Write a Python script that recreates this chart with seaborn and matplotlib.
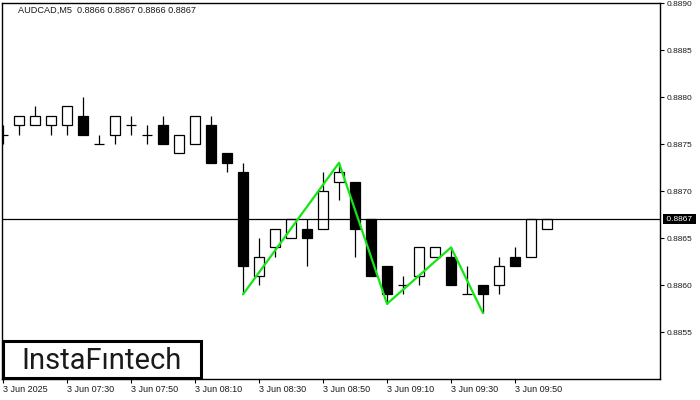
"""
AUDCAD M5 candlestick chart with a triple-bottom style zigzag pattern
"""

import matplotlib
matplotlib.use("Agg")
import matplotlib.pyplot as plt
import matplotlib.transforms as mtransforms
from matplotlib.patches import Rectangle
import numpy as np
import pandas as pd
import seaborn as sns

# Candle data (5 minute bars, 3 Jun 2025 07:10 -> 10:00)
opens = [0.8876, 0.8877, 0.8877, 0.8877, 0.8877, 0.8878, 0.8875, 0.8876, 0.8877, 0.8876,
         0.8877, 0.8874, 0.8875, 0.8877, 0.8874, 0.8872, 0.8861, 0.8864, 0.8865, 0.8866,
         0.8866, 0.8871, 0.8871, 0.8867, 0.8862, 0.8860, 0.8861, 0.8863, 0.8863, 0.8859,
         0.8860, 0.8860, 0.8863, 0.8863, 0.8866]
highs = [0.8877, 0.8878, 0.8879, 0.8878, 0.8879, 0.8880, 0.8876, 0.8878, 0.8878, 0.8877,
         0.8878, 0.8876, 0.8878, 0.8878, 0.8874, 0.8873, 0.8865, 0.8866, 0.8867, 0.8867,
         0.8872, 0.8873, 0.8871, 0.8867, 0.8862, 0.8861, 0.8864, 0.8864, 0.8864, 0.8862,
         0.8860, 0.8863, 0.8864, 0.8867, 0.8867]
lows = [0.8875, 0.8876, 0.8877, 0.8876, 0.8876, 0.8876, 0.8875, 0.8875, 0.8876, 0.8875,
        0.8875, 0.8874, 0.8875, 0.8873, 0.8872, 0.8859, 0.8860, 0.8863, 0.8865, 0.8862,
        0.8866, 0.8869, 0.8863, 0.8861, 0.8858, 0.8859, 0.8860, 0.8863, 0.8860, 0.8859,
        0.8857, 0.8859, 0.8862, 0.8863, 0.8866]
closes = [0.8876, 0.8878, 0.8878, 0.8878, 0.8879, 0.8876, 0.8875, 0.8878, 0.8877, 0.8876,
          0.8875, 0.8876, 0.8878, 0.8873, 0.8873, 0.8862, 0.8863, 0.8866, 0.8867, 0.8865,
          0.8870, 0.8872, 0.8866, 0.8861, 0.8859, 0.8860, 0.8864, 0.8864, 0.8860, 0.8859,
          0.8859, 0.8862, 0.8862, 0.8867, 0.8867]

# Zigzag pattern (candle index, price)
pattern_idx = [15, 21, 24, 28, 30]
pattern_price = [0.8859, 0.8873, 0.8858, 0.8864, 0.8857]

current_price = 0.8867
price_ticks = [0.8855, 0.8860, 0.8865, 0.8870, 0.8875, 0.8880, 0.8885, 0.8890]
time_tick_idx = [0, 4, 8, 12, 16, 20, 24, 28, 32]
time_labels = ["3 Jun 2025", "3 Jun 07:30", "3 Jun 07:50", "3 Jun 08:10", "3 Jun 08:30",
               "3 Jun 08:50", "3 Jun 09:10", "3 Jun 09:30", "3 Jun 09:50"]
title = "AUDCAD,M5  0.8866 0.8867 0.8866 0.8867"
logo = "InstaF\u0131ntech"

sns.set_style("white")
plt.rcParams['font.family'] = ['Liberation Sans', 'DejaVu Sans']

df = pd.DataFrame({"open": opens, "high": highs, "low": lows, "close": closes})
df["idx"] = np.arange(len(df))
df["bottom"] = df[["open", "close"]].min(axis=1)
df["height"] = (df["close"] - df["open"]).abs()
df["face"] = np.where(df["close"] >= df["open"], "white", "black")

fig = plt.figure(figsize=(7, 4), dpi=100)
ax = fig.add_axes([2 / 700, 21 / 400, 658 / 700, 376 / 400])

# wicks
ax.vlines(df["idx"], df["low"], df["high"], color="black", linewidth=0.9, zorder=2)
# bodies
ax.bar(df["idx"], df["height"], bottom=df["bottom"], width=0.6,
       color=df["face"], edgecolor="black", linewidth=0.9, zorder=3)

# current price line
ax.axhline(current_price, color="black", linewidth=0.9, zorder=4)

# pattern zigzag
sns.lineplot(x=pattern_idx, y=pattern_price, ax=ax, color="#14e614",
             linewidth=1.6, sort=False, zorder=5)

ax.set_xlim(-0.0625, 41.06)
ax.set_ylim(0.8850, 0.8890)

ax.yaxis.tick_right()
ax.set_yticks(price_ticks)
ax.set_yticklabels([f"{p:.4f}" for p in price_ticks])
ax.set_xticks(time_tick_idx)
ax.set_xticklabels(time_labels)
plt.setp(ax.get_xticklabels(), ha="left")
ax.tick_params(axis="both", direction="out", length=3, width=0.8, color="black",
               labelcolor="#1a1a1a", pad=1.5)
ax.tick_params(axis="x", bottom=True, labelsize=6.5)
ax.tick_params(axis="y", right=True, left=False, labelsize=6)
ax.set_xlabel("")
ax.set_ylabel("")
ax.grid(False)
for s in ax.spines.values():
    s.set_color("black")
    s.set_linewidth(1.0)

# current price tag on the axis
trans = mtransforms.blended_transform_factory(ax.transAxes, ax.transData)
ax.text(1.006, current_price, " 0.8867 ", transform=trans, ha="left", va="center",
        fontsize=6, color="white", zorder=6, clip_on=False,
        bbox=dict(boxstyle="square,pad=0.15", facecolor="black", edgecolor="none"))

fig.text(18 / 700, 1 - 10 / 400, title, fontsize=6.6, va="center", ha="left", color="#1a1a1a")

# logo box
fig.patches.append(Rectangle((3 / 700, 1 - 378 / 400), 198 / 700, 37 / 400,
                             transform=fig.transFigure, facecolor="white",
                             edgecolor="black", linewidth=2.2, zorder=10))
fig.text(102 / 700, 1 - 361 / 400, logo, fontsize=21, family=["Roboto", "DejaVu Sans"],
         fontweight="normal", ha="center", va="center", color="#1a1a1a", zorder=11)

fig.savefig("out.png", dpi=100)
